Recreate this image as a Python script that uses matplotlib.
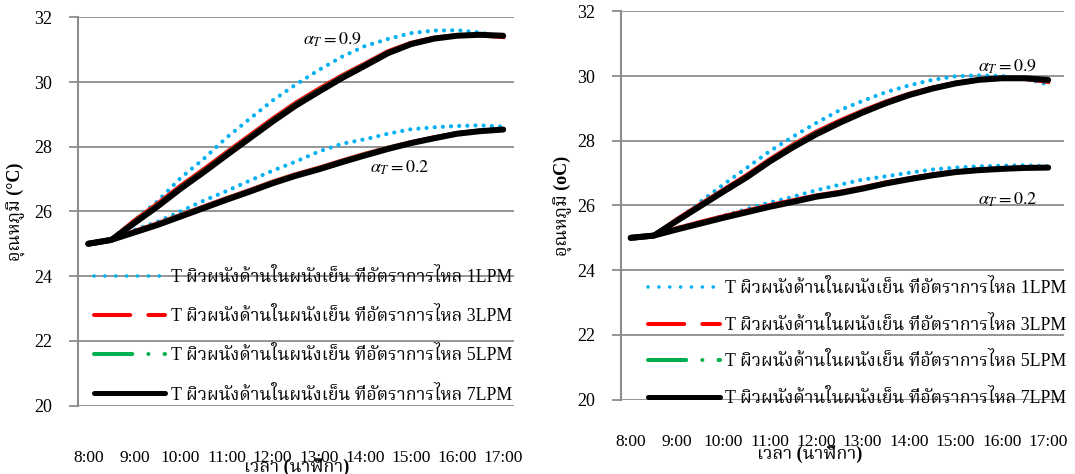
import matplotlib
matplotlib.use("Agg")
import matplotlib.pyplot as plt
from matplotlib.lines import Line2D

# font: Times-like Latin + Thai serif fallback
plt.rcParams['font.family'] = ['Liberation Serif', 'Noto Serif Thai']
plt.rcParams['mathtext.fontset'] = 'stix'

# ---------------- data (every 30 min, 8:00 - 17:00) ----------------
hours = [8.0, 8.5, 9.0, 9.5, 10.0, 10.5, 11.0, 11.5, 12.0, 12.5,
         13.0, 13.5, 14.0, 14.5, 15.0, 15.5, 16.0, 16.5, 17.0]
tick_hours = [8, 9, 10, 11, 12, 13, 14, 15, 16, 17]
tick_labels = ['8:00', '9:00', '10:00', '11:00', '12:00', '13:00',
               '14:00', '15:00', '16:00', '17:00']

# left chart, alpha_T = 0.9
L09_1 = [25.00, 25.15, 25.72, 26.31, 27.03, 27.62, 28.28, 28.86, 29.43, 29.92,
         30.37, 30.78, 31.11, 31.33, 31.51, 31.59, 31.60, 31.53, 31.38]
L09_3 = [25.00, 25.13, 25.72, 26.24, 26.79, 27.30, 27.83, 28.35, 28.87, 29.36,
         29.79, 30.20, 30.57, 30.95, 31.21, 31.37, 31.44, 31.44, 31.39]
L09_5 = [25.00, 25.12, 25.68, 26.19, 26.74, 27.25, 27.78, 28.30, 28.82, 29.31,
         29.74, 30.16, 30.54, 30.92, 31.19, 31.36, 31.44, 31.46, 31.42]
L09_7 = [25.00, 25.12, 25.64, 26.15, 26.70, 27.21, 27.74, 28.26, 28.78, 29.27,
         29.70, 30.12, 30.50, 30.89, 31.17, 31.34, 31.43, 31.46, 31.43]
# left chart, alpha_T = 0.2
L02_1 = [25.00, 25.15, 25.43, 25.68, 26.00, 26.33, 26.63, 26.95, 27.26, 27.54,
         27.85, 28.09, 28.23, 28.40, 28.54, 28.60, 28.64, 28.66, 28.62]
L02_3 = [25.00, 25.13, 25.39, 25.63, 25.89, 26.15, 26.41, 26.66, 26.92, 27.15,
         27.35, 27.57, 27.78, 27.97, 28.14, 28.29, 28.42, 28.50, 28.54]
L02_5 = [25.00, 25.12, 25.37, 25.61, 25.87, 26.13, 26.39, 26.64, 26.90, 27.13,
         27.33, 27.55, 27.76, 27.96, 28.13, 28.28, 28.42, 28.50, 28.54]
L02_7 = [25.00, 25.12, 25.35, 25.58, 25.84, 26.10, 26.36, 26.61, 26.87, 27.10,
         27.30, 27.52, 27.73, 27.93, 28.11, 28.26, 28.40, 28.48, 28.53]

# right chart, alpha_T = 0.9
R09_1 = [25.00, 25.10, 25.55, 26.11, 26.65, 27.16, 27.68, 28.13, 28.55, 28.94,
         29.23, 29.50, 29.71, 29.88, 29.99, 30.02, 30.00, 29.92, 29.74]
R09_3 = [25.00, 25.08, 25.58, 26.04, 26.49, 26.94, 27.43, 27.88, 28.28, 28.62,
         28.93, 29.21, 29.45, 29.64, 29.79, 29.89, 29.93, 29.91, 29.82]
R09_5 = [25.00, 25.07, 25.55, 26.01, 26.46, 26.90, 27.39, 27.84, 28.24, 28.58,
         28.90, 29.18, 29.43, 29.62, 29.78, 29.88, 29.93, 29.92, 29.86]
R09_7 = [25.00, 25.07, 25.53, 25.98, 26.43, 26.87, 27.36, 27.80, 28.20, 28.55,
         28.87, 29.16, 29.41, 29.61, 29.77, 29.88, 29.93, 29.93, 29.88]
# right chart, alpha_T = 0.2
R02_1 = [25.00, 25.10, 25.30, 25.48, 25.68, 25.89, 26.09, 26.27, 26.47, 26.64,
         26.80, 26.90, 27.01, 27.11, 27.17, 27.21, 27.23, 27.24, 27.21]
R02_3 = [25.00, 25.08, 25.30, 25.49, 25.67, 25.84, 26.01, 26.16, 26.31, 26.42,
         26.56, 26.71, 26.84, 26.96, 27.05, 27.11, 27.15, 27.17, 27.18]
R02_5 = [25.00, 25.07, 25.28, 25.46, 25.64, 25.81, 25.98, 26.13, 26.29, 26.40,
         26.54, 26.69, 26.82, 26.94, 27.04, 27.10, 27.14, 27.17, 27.17]
R02_7 = [25.00, 25.07, 25.26, 25.44, 25.62, 25.79, 25.96, 26.11, 26.27, 26.38,
         26.52, 26.68, 26.81, 26.93, 27.03, 27.09, 27.13, 27.16, 27.17]

legend_labels = ['T ผิวผนังด้านในผนังเย็น ที่อัตราการไหล 1LPM',
                 'T ผิวผนังด้านในผนังเย็น ที่อัตราการไหล 3LPM',
                 'T ผิวผนังด้านในผนังเย็น ที่อัตราการไหล 5LPM',
                 'T ผิวผนังด้านในผนังเย็น ที่อัตราการไหล 7LPM']

c_blue, c_red, c_green, c_black = '#00B0F0', '#FF0000', '#00B050', '#000000'
grid_c = '#8C8C8C'


def draw_series(ax, s1, s3, s5, s7):
    ax.plot(hours, s1, color=c_blue, lw=3.0, linestyle=(0, (0.01, 1.95)),
            dash_capstyle='round', zorder=3)
    ax.plot(hours, s3, color=c_red, lw=3.0, zorder=4)
    ax.plot(hours, s5, color=c_green, lw=3.0, zorder=4.5)
    ax.plot(hours, s7, color=c_black, lw=4.3, solid_capstyle='round', zorder=5)


def style_axes(ax, xlim, ylab, tick_pad):
    ax.set_xlim(*xlim)
    ax.set_ylim(20, 32)
    ax.set_yticks([20, 22, 24, 26, 28, 30, 32])
    ax.set_xticks(tick_hours)
    ax.set_xticklabels(tick_labels)
    ax.tick_params(axis='x', length=0, pad=tick_pad, labelsize=12.5)
    ax.tick_params(axis='y', length=6.5, width=1.3, color=grid_c,
                   pad=12.5, labelsize=13)
    ax.grid(axis='y', color=grid_c, lw=1.3)
    ax.set_axisbelow(True)
    for s in ['top', 'right', 'bottom']:
        ax.spines[s].set_visible(False)
    ax.spines['left'].set_color(grid_c)
    ax.spines['left'].set_linewidth(1.5)
    ax.set_ylabel(ylab, fontsize=13, fontweight='bold')
    ax.set_xlabel('เวลา (นาฬิกา)', fontsize=13, fontweight='bold')
    ax.xaxis.label.set_va('center')
    ax.yaxis.label.set_va('center')


def add_legend(ax, anchor, spacing):
    handles = [
        Line2D([], [], color=c_blue, lw=2.6, linestyle=(0, (0.01, 3.0)),
               dash_capstyle='round'),
        Line2D([], [], color=c_red, lw=2.9, linestyle=(0, (9, 4.5)),
               dash_capstyle='round'),
        Line2D([], [], color=c_green, lw=2.9, linestyle=(0, (9.5, 4, 0.01, 4)),
               dash_capstyle='round'),
        Line2D([], [], color=c_black, lw=3.6, solid_capstyle='round'),
    ]
    ax.legend(handles, legend_labels, loc='lower right', bbox_to_anchor=anchor,
              frameon=False, fontsize=12.8, handlelength=4.0, handletextpad=0.3,
              labelspacing=spacing, borderpad=0, borderaxespad=0)


fig = plt.figure(figsize=(10.75, 4.74), dpi=100)

# ---------------- left chart ----------------
ax1 = fig.add_axes([0.0730, 0.1445, 0.4051, 0.8190])
draw_series(ax1, L09_1, L09_3, L09_5, L09_7)
draw_series(ax1, L02_1, L02_3, L02_5, L02_7)
style_axes(ax1, (7.787, 17.234), 'อุณหภูมิ (°C)', 32.0)
ax1.xaxis.set_label_coords(0.5, -0.158)
ax1.yaxis.set_label_coords(-0.142, 0.5)
add_legend(ax1, (0.995, 0.005), 1.19)
ax1.text(12.66, 31.30, r'$\alpha_T = 0.9$', fontsize=13, va='center', ha='left')
ax1.text(14.11, 27.34, r'$\alpha_T = 0.2$', fontsize=13, va='center', ha='left')

# ---------------- right chart ----------------
ax2 = fig.add_axes([0.5781, 0.1568, 0.4116, 0.8194])
draw_series(ax2, R09_1, R09_3, R09_5, R09_7)
draw_series(ax2, R02_1, R02_3, R02_5, R02_7)
style_axes(ax2, (7.80, 17.34), 'อุณหภูมิ (oC)', 25.0)
ax2.xaxis.set_label_coords(0.426, -0.140)
ax2.yaxis.set_label_coords(-0.132, 0.5)
add_legend(ax2, (1.005, -0.019), 1.05)
ax2.text(15.49, 30.28, r'$\alpha_T = 0.9$', fontsize=13, va='center', ha='left')
ax2.text(15.49, 26.18, r'$\alpha_T = 0.2$', fontsize=13, va='center', ha='left')

fig.savefig('out.png', dpi=100)
